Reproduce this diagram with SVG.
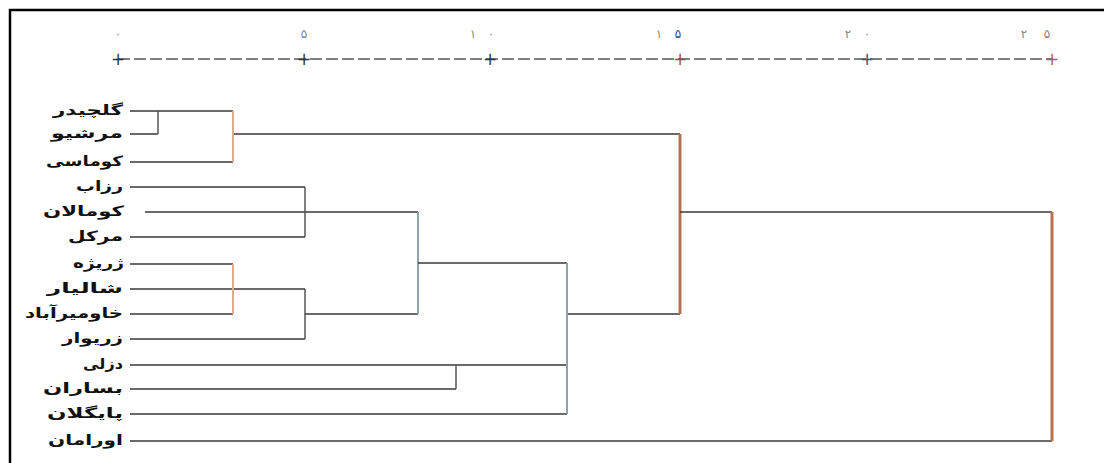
<svg xmlns="http://www.w3.org/2000/svg" width="1104" height="463" viewBox="0 0 1104 463">
<style>
.lbl{font-family:"DejaVu Sans","Noto Sans",sans-serif;font-weight:bold;font-size:14px;fill:#111;text-anchor:end}
.tk{font-family:"DejaVu Sans",sans-serif;font-size:12px;fill:#888;text-anchor:middle}
.pl{font-family:"DejaVu Sans",sans-serif;font-size:17px;text-anchor:middle}
.h{stroke:#3a3a3a;stroke-width:1.5;fill:none}
.v{stroke:#555;stroke-width:1.5;fill:none}
.vo{stroke:#e2a98a;stroke-width:2;fill:none}
.vb{stroke:#8ea3aa;stroke-width:2;fill:none}
.vr{stroke:#b8714f;stroke-width:3;fill:none}
</style>
<rect x="0" y="0" width="1104" height="463" fill="#fff"/>
<path d="M10,464 V10 H1105" stroke="#000" stroke-width="2.5" fill="none"/>
<g id="axis">
<line x1="118" y1="59" x2="1052" y2="59" stroke="#555" stroke-width="1.4" stroke-dasharray="12 4"/>
<text class="tk" x="118" y="38">۰</text>
<text class="tk" x="304" y="38">۵</text>
<text class="tk" y="38"><tspan x="473">۱</tspan><tspan x="491">۰</tspan></text>
<text class="tk" y="38"><tspan x="659">۱</tspan><tspan x="678" fill="#3a4a66">۵</tspan></text>
<text class="tk" y="38"><tspan x="848">۲</tspan><tspan x="867">۰</tspan></text>
<text class="tk" y="38"><tspan x="1024">۲</tspan><tspan x="1047">۵</tspan></text>
<text class="pl" x="118" y="65" fill="#333">+</text>
<text class="pl" x="304" y="65" fill="#333">+</text>
<text class="pl" x="490" y="65" fill="#333">+</text>
<text class="pl" x="680" y="65" fill="#b3403a">+</text>
<text class="pl" x="867" y="65" fill="#2e5a78">+</text>
<text class="pl" x="1052" y="65" fill="#b0603f">+</text>
</g>
<g id="n-golchidar"><text class="lbl" x="123" y="115" textLength="70" lengthAdjust="spacingAndGlyphs">گلچیدر</text></g>
<g id="n-marshio"><text class="lbl" x="123" y="138" textLength="72" lengthAdjust="spacingAndGlyphs">مرشیو</text></g>
<g id="n-koumasi"><text class="lbl" x="123" y="166" textLength="77" lengthAdjust="spacingAndGlyphs">کوماسی</text></g>
<g id="n-razab"><text class="lbl" x="123" y="191" textLength="47" lengthAdjust="spacingAndGlyphs">رزاب</text></g>
<g id="n-koumalan"><text class="lbl" x="124" y="216" textLength="81" lengthAdjust="spacingAndGlyphs">کومالان</text></g>
<g id="n-markel"><text class="lbl" x="123" y="241" textLength="55" lengthAdjust="spacingAndGlyphs">مرکل</text></g>
<g id="n-zhrizhe"><text class="lbl" x="124" y="268" textLength="51" lengthAdjust="spacingAndGlyphs">ژریژه</text></g>
<g id="n-shaliar"><text class="lbl" x="123" y="293" textLength="76" lengthAdjust="spacingAndGlyphs">شالیار</text></g>
<g id="n-khavmirabad"><text class="lbl" x="123" y="318" textLength="98" lengthAdjust="spacingAndGlyphs">خاومیرآباد</text></g>
<g id="n-zarivar"><text class="lbl" x="123" y="343" textLength="61" lengthAdjust="spacingAndGlyphs">زریوار</text></g>
<g id="n-dezli"><text class="lbl" x="123" y="369" textLength="40" lengthAdjust="spacingAndGlyphs">دزلی</text></g>
<g id="n-besaran"><text class="lbl" x="123" y="393" textLength="80" lengthAdjust="spacingAndGlyphs">بساران</text></g>
<g id="n-paygelan"><text class="lbl" x="123" y="418" textLength="76" lengthAdjust="spacingAndGlyphs">پایگلان</text></g>
<g id="n-ouraman"><text class="lbl" x="123" y="445" textLength="75" lengthAdjust="spacingAndGlyphs">اورامان</text></g>
<g id="connectors">
<path class="h" d="M130,111 H233 M130,134 H158 M130,162 H233 M233,134 H680"/>
<path class="v" d="M158,111 V134"/>
<path class="vo" d="M233,111 V162"/>
<path class="h" d="M130,187 H305 M145,212 H305 M130,237 H305 M305,212 H418"/>
<path class="v" d="M305,187 V237"/>
<path class="h" d="M130,264 H233 M130,289 H305 M130,314 H233 M130,339 H305 M305,314 H418"/>
<path class="vo" d="M233,264 V314"/>
<path class="v" d="M305,289 V339"/>
<path class="vb" d="M418,212 V314"/>
<path class="h" d="M418,263 H567 M130,365 H567 M130,389 H456 M130,414 H567 M567,314 H680"/>
<path class="v" d="M456,365 V389"/>
<path class="vb" d="M567,263 V414"/>
<path class="vr" d="M680,134 V314"/>
<path class="h" d="M680,212 H1052 M130,441 H1052"/>
<path class="vr" d="M1052,212 V441"/>
</g>
</svg>
